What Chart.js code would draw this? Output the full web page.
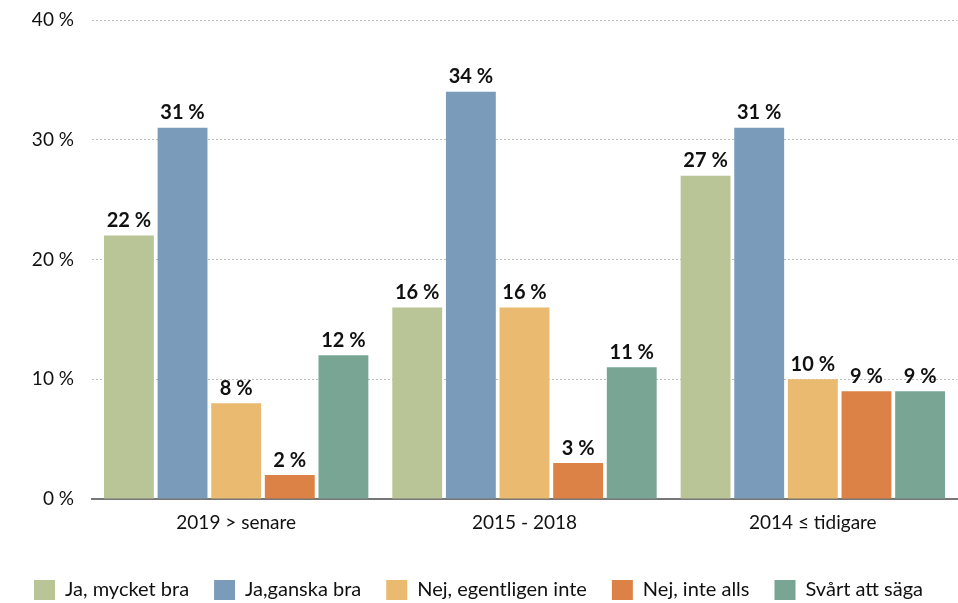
<!DOCTYPE html>
<html><head><meta charset="utf-8">
<script src="https://cdn.jsdelivr.net/npm/chart.js@4/dist/chart.umd.min.js"></script>
<style>html,body{margin:0;padding:0;background:#fff}#wrap{width:958px;height:603px}</style>
</head><body><div id="wrap"><canvas id="c" width="958" height="603"></canvas></div>
<script>
const categories = ["2019 > senare", "2015 - 2018", "2014 ≤ tidigare"];
const seriesNames = ["Ja, mycket bra", "Ja,ganska bra", "Nej, egentligen inte", "Nej, inte alls", "Svårt att säga"];
const jaMycketBra = [22, 16, 27];
const jaGanskaBra = [31, 34, 31];
const nejEgentligenInte = [8, 16, 10];
const nejInteAlls = [2, 3, 9];
const svartAttSaga = [12, 11, 9];
const yTicks = [0, 10, 20, 30, 40];
const colors = ["#B9C497", "#7A9BBA", "#E9BA6F", "#DD8247", "#79A595"];

const FONT = "Lato, 'Open Sans', sans-serif";
const seriesValues = [jaMycketBra, jaGanskaBra, nejEgentligenInte, nejInteAlls, svartAttSaga];

const labelPlugin = {
  id: 'valLabels',
  afterDatasetsDraw(chart) {
    const ctx = chart.ctx;
    ctx.save();
    ctx.fillStyle = '#111';
    ctx.font = "bold 20px " + FONT;
    ctx.textAlign = 'center';
    ctx.textBaseline = 'bottom';
    chart.data.datasets.forEach((ds, i) => {
      chart.getDatasetMeta(i).data.forEach((bar, j) => {
        ctx.fillText(ds.data[j] + ' %', bar.x, bar.y - 5);
      });
    });
    ctx.restore();
  }
};

new Chart(document.getElementById('c'), {
  type: 'bar',
  data: {
    labels: categories,
    datasets: seriesNames.map((n, i) => ({
      label: n, data: seriesValues[i], backgroundColor: colors[i],
      categoryPercentage: 0.93, barPercentage: 0.93, borderWidth: 0
    }))
  },
  options: {
    responsive: false, animation: false,
    layout: { padding: { top: 20, right: 1, left: 0, bottom: -7 } },
    plugins: {
      legend: {
        position: 'bottom',
        labels: { boxWidth: 21, boxHeight: 20, padding: 25, color: '#111', font: { family: FONT, size: 20 } }
      },
      tooltip: { enabled: false }
    },
    scales: {
      x: {
        grid: { display: false, drawTicks: false },
        border: { display: true, color: '#777', width: 2 },
        ticks: { color: '#111', font: { family: FONT, size: 19 }, padding: 12 },
        afterFit(s) { s.height = 56; }
      },
      y: {
        min: 0, max: 40,
        afterBuildTicks(s) { s.ticks = yTicks.map(v => ({ value: v })); },
        grid: { color: '#bbb', lineWidth: 1, drawTicks: false },
        border: { display: false, dash: [2, 2] },
        ticks: { color: '#111', font: { family: FONT, size: 19 }, padding: 18, callback: v => v + ' %' },
        afterFit(s) { s.width = 92; s.paddingTop = 0; s.paddingBottom = 0; }
      }
    }
  },
  plugins: [labelPlugin]
});
</script></body></html>
